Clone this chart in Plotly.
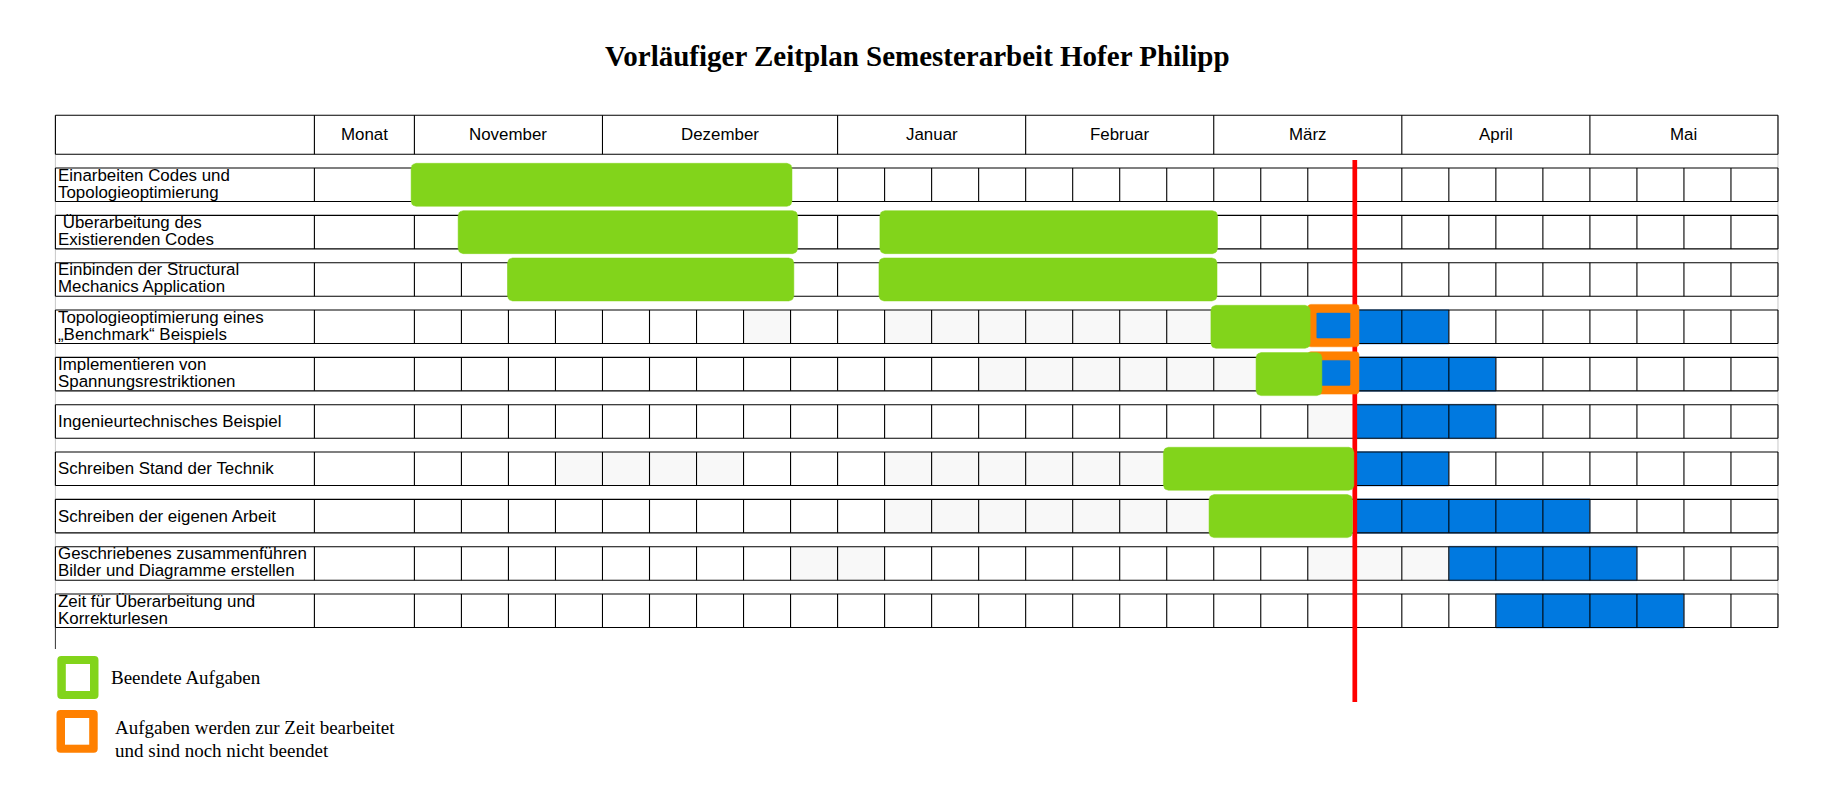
import math
import plotly.graph_objects as go

W, H = 1828, 810

# ---------------- data ----------------
task_labels = [
    ["Einarbeiten Codes und", "Topologieoptimierung"],
    ["\u00a0Überarbeitung des", "Existierenden Codes"],
    ["Einbinden der Structural", "Mechanics Application"],
    ["Topologieoptimierung eines", "„Benchmark“ Beispiels"],
    ["Implementieren von", "Spannungsrestriktionen"],
    ["Ingenieurtechnisches Beispiel"],
    ["Schreiben Stand der Technik"],
    ["Schreiben der eigenen Arbeit"],
    ["Geschriebenes zusammenführen", "Bilder und Diagramme erstellen"],
    ["Zeit für Überarbeitung und", "Korrekturlesen"],
]
months = ["November", "Dezember", "Januar", "Februar", "März", "April", "Mai"]
weeks_per_month = [4, 5, 4, 4, 4, 4, 4]

# finished work (green), in weeks from start of November
done_row = [1, 2, 2, 3, 3, 4, 5, 7, 8]
done_start = [-0.07, 0.93, 9.90, 1.98, 9.88, 16.94, 17.90, 15.93, 16.90]
done_end = [8.03, 8.15, 17.08, 8.07, 17.07, 19.05, 19.30, 19.98, 19.95]

# planned work (blue)
plan_row = [4, 5, 6, 7, 8, 9, 10]
plan_start = [20, 20, 20, 20, 20, 22, 23]
plan_end = [22, 23, 23, 22, 25, 26, 27]

# work in progress (orange frame)
prog_row = [4, 5]
prog_start = [19.0, 19.0]
prog_end = [20.09, 20.09]

today_week = 20

# lightly shaded cells (row, week)
shade_row = [4, 4, 4, 4, 4, 4, 4, 4,
             5, 5, 5, 5, 5, 5,
             6,
             7, 7, 7, 7, 7, 7, 7, 7, 7, 7,
             8, 8, 8, 8, 8, 8, 8,
             9, 9, 9, 9, 9]
shade_week = [7, 10, 11, 12, 13, 14, 15, 16,
              12, 13, 14, 15, 16, 17,
              19,
              3, 4, 5, 6, 10, 11, 12, 13, 14, 15,
              10, 11, 12, 13, 14, 15, 16,
              8, 9, 19, 20, 21]

# ---------------- layout geometry ----------------
X0_PX, PXW = 414.4, 47.02      # pixel of week 0, pixels per week
Y1_PX, PXR = 184.8, 47.33      # pixel of row 1 centre, pixels per row
XMIN, XMAX = -X0_PX / PXW, (W - X0_PX) / PXW
YTOP, YBOT = 1 - Y1_PX / PXR, 1 + (H - Y1_PX) / PXR


def xu(px):
    return (px - X0_PX) / PXW


def yu(px):
    return 1 + (px - Y1_PX) / PXR


LABEL_LEFT = xu(55.4)
MONAT_LEFT = xu(314.4)
N_WEEKS = sum(weeks_per_month)
ROW_HALF = 33.5 / 2 / PXR
HEAD_TOP, HEAD_BOT = yu(115.3), yu(154.3)
n_rows = len(task_labels)

GREEN = "#82D41B"
ORANGE = "#FF8000"
BLUE = "#0079E0"
SHADE = "#F8F8F8"

fig = go.Figure()

# planned bars (blue)
fig.add_trace(go.Bar(
    orientation="h", y=plan_row,
    x=[e - s for s, e in zip(plan_start, plan_end)], base=plan_start,
    width=34.4 / PXR,
    marker=dict(color=BLUE, line=dict(color="#8DBBEE", width=1)),
    hoverinfo="skip",
))

# grid lines of the table
gx, gy = [], []


def seg(x0, y0, x1, y1):
    gx.extend([x0, x1, None])
    gy.extend([y0, y1, None])


month_bounds = [0]
for n in weeks_per_month:
    month_bounds.append(month_bounds[-1] + n)

seg(LABEL_LEFT, HEAD_TOP, N_WEEKS, HEAD_TOP)
seg(LABEL_LEFT, HEAD_BOT, N_WEEKS, HEAD_BOT)
for xv in [LABEL_LEFT, MONAT_LEFT] + month_bounds:
    seg(xv, HEAD_TOP, xv, HEAD_BOT)
for k in range(1, n_rows + 1):
    t, b = k - ROW_HALF, k + ROW_HALF
    seg(LABEL_LEFT, t, N_WEEKS, t)
    seg(LABEL_LEFT, b, N_WEEKS, b)
    for xv in [LABEL_LEFT, MONAT_LEFT] + list(range(N_WEEKS + 1)):
        seg(xv, t, xv, b)

fig.add_trace(go.Scatter(x=gx, y=gy, mode="lines",
                         line=dict(color="#000000", width=1.1),
                         hoverinfo="skip"))

# today line
fig.add_trace(go.Scatter(x=[today_week, today_week], y=[yu(160), yu(702)],
                         mode="lines", line=dict(color="#FF0000", width=4.7),
                         hoverinfo="skip"))


def rounded(x0, x1, yc, hpx, rpx, n=7):
    y0 = yc - hpx / 2 / PXR
    y1 = yc + hpx / 2 / PXR
    rx, ry = rpx / PXW, rpx / PXR
    centers = [(x0 + rx, y0 + ry, 180), (x1 - rx, y0 + ry, 270),
               (x1 - rx, y1 - ry, 0), (x0 + rx, y1 - ry, 90)]
    xs, ys = [], []
    for cx, cy, a0 in centers:
        for i in range(n + 1):
            a = math.radians(a0 + 90 * i / n)
            xs.append(cx + rx * math.cos(a))
            ys.append(cy + ry * math.sin(a))
    xs.append(xs[0])
    ys.append(ys[0])
    return xs, ys


def poly_trace(xs, ys, color):
    return go.Scatter(x=xs, y=ys, mode="lines", fill="toself",
                      fillcolor=color, line=dict(color=color, width=0.5),
                      hoverinfo="skip")


# in-progress frames (orange) with blue inside
for r, s, e in zip(prog_row, prog_start, prog_end):
    xs, ys = rounded(s, e, r - 1.2 / PXR, 42.4, 3)
    fig.add_trace(poly_trace(xs, ys, ORANGE))
for r, s, e in zip(prog_row, prog_start, prog_end):
    xs, ys = rounded(s + 9 / PXW, e - 9 / PXW, r - 1.2 / PXR, 25.0, 0.5)
    fig.add_trace(poly_trace(xs, ys, BLUE))

# finished bars (green, rounded)
for r, s, e in zip(done_row, done_start, done_end):
    xs, ys = rounded(s, e, r, 43, 5)
    fig.add_trace(poly_trace(xs, ys, GREEN))

# shaded cells and light outer borders
shapes = []
for r, w in zip(shade_row, shade_week):
    shapes.append(dict(type="rect", xref="x", yref="y", x0=w, x1=w + 1,
                       y0=r - ROW_HALF, y1=r + ROW_HALF, fillcolor=SHADE,
                       line=dict(width=0), layer="below"))
shapes.append(dict(type="line", xref="x", yref="y", x0=LABEL_LEFT, x1=LABEL_LEFT,
                   y0=HEAD_TOP, y1=n_rows + ROW_HALF, line=dict(color="#C8C8C8", width=1),
                   layer="below"))
shapes.append(dict(type="line", xref="x", yref="y", x0=LABEL_LEFT, x1=LABEL_LEFT,
                   y0=n_rows + ROW_HALF, y1=yu(649), line=dict(color="#333333", width=1),
                   layer="below"))
shapes.append(dict(type="line", xref="x", yref="y", x0=N_WEEKS, x1=N_WEEKS,
                   y0=HEAD_TOP, y1=n_rows + ROW_HALF, line=dict(color="#C8C8C8", width=1),
                   layer="below"))


# legend boxes (pixel geometry -> paper)
def px_path(x0, y0, x1, y1, r):
    def p(x, y):
        return f"{x / W:.5f},{1 - y / H:.5f}"
    return (f"M {p(x0 + r, y0)} L {p(x1 - r, y0)} Q {p(x1, y0)} {p(x1, y0 + r)} "
            f"L {p(x1, y1 - r)} Q {p(x1, y1)} {p(x1 - r, y1)} "
            f"L {p(x0 + r, y1)} Q {p(x0, y1)} {p(x0, y1 - r)} "
            f"L {p(x0, y0 + r)} Q {p(x0, y0)} {p(x0 + r, y0)} Z")


for (x0, y0, x1, y1, col) in [(57.3, 656, 98.5, 699, GREEN), (56.5, 710, 97.7, 752.7, ORANGE)]:
    shapes.append(dict(type="path", xref="paper", yref="paper",
                       path=px_path(x0, y0, x1, y1, 4), fillcolor=col,
                       line=dict(width=0)))
    shapes.append(dict(type="rect", xref="paper", yref="paper",
                       x0=(x0 + 8.5) / W, x1=(x1 - 8.5) / W,
                       y0=1 - (y0 + 8) / H, y1=1 - (y1 - 8) / H,
                       fillcolor="white", line=dict(width=0)))

# ---------------- texts ----------------
SANS = "Liberation Sans, Arial, sans-serif"
SERIF = "Liberation Serif, Times New Roman, serif"
ann = []
for k, lines in enumerate(task_labels, start=1):
    shifts = [0] if len(lines) == 1 else [9.5, -7.3]
    for line, sh in zip(lines, shifts):
        ann.append(dict(x=LABEL_LEFT, y=k, xref="x", yref="y", text=line,
                        showarrow=False, xanchor="left", yanchor="middle",
                        xshift=1.0, yshift=sh,
                        font=dict(family=SANS, size=16.9, color="#000")))

head_mid = (HEAD_TOP + HEAD_BOT) / 2
ann.append(dict(x=(MONAT_LEFT + 0) / 2, y=head_mid, xref="x", yref="y", text="Monat",
                showarrow=False, xanchor="center", yanchor="middle",
                font=dict(family=SANS, size=16.9, color="#000")))
for m, a, b in zip(months, month_bounds[:-1], month_bounds[1:]):
    ann.append(dict(x=(a + b) / 2, y=head_mid, xref="x", yref="y", text=m,
                    showarrow=False, xanchor="center", yanchor="middle",
                    font=dict(family=SANS, size=16.9, color="#000")))

ann.append(dict(x=918 / W, y=1 - 56 / H, xref="paper", yref="paper",
                text="<b>Vorläufiger Zeitplan Semesterarbeit Hofer Philipp</b>",
                showarrow=False, xanchor="center", yanchor="middle",
                font=dict(family=SERIF, size=29, color="#000")))

for txt, xp, yp in [("Beendete Aufgaben", 109, 677),
                    ("Aufgaben werden zur Zeit bearbeitet", 112.5, 727.7),
                    ("und sind noch nicht beendet", 112.5, 750.4)]:
    ann.append(dict(x=xp / W, y=1 - yp / H, xref="paper", yref="paper", text=txt,
                    showarrow=False, xanchor="left", yanchor="middle",
                    font=dict(family=SERIF, size=19, color="#000")))

fig.update_layout(
    width=W, height=H,
    margin=dict(l=0, r=0, t=0, b=0, pad=0),
    paper_bgcolor="white", plot_bgcolor="white",
    showlegend=False, barmode="overlay",
    xaxis=dict(range=[XMIN, XMAX], visible=False, fixedrange=True),
    yaxis=dict(range=[YBOT, YTOP], visible=False, fixedrange=True),
    shapes=shapes, annotations=ann,
)

fig.write_html("out.html")
